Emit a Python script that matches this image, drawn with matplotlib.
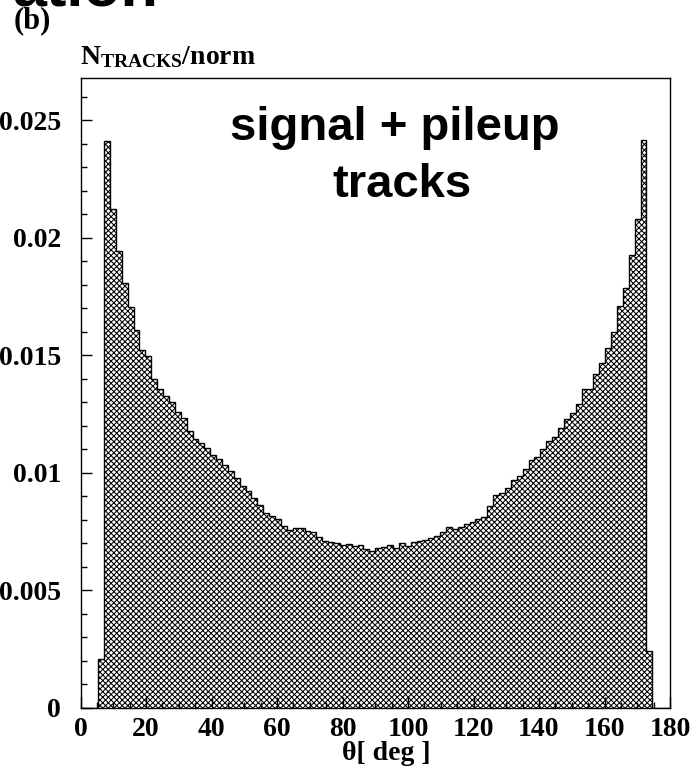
import numpy as np
import matplotlib
matplotlib.use("Agg")
import matplotlib.pyplot as plt
from matplotlib.ticker import MultipleLocator, FixedLocator, FixedFormatter

# Polar angle distribution of signal + pileup tracks, 100 bins over 0-180 deg
bin_lo, bin_hi, n_bins = 0.0, 180.0, 100
first_filled_bin = 3
track_fraction = [
    0.00209, 0.02410, 0.02123, 0.01943, 0.01808, 0.01707, 0.01608, 0.01523,
    0.01496, 0.01401, 0.01358, 0.01327, 0.01300, 0.01260, 0.01235, 0.01177,
    0.01145, 0.01128, 0.01104, 0.01074, 0.01060, 0.01035, 0.01007, 0.00979,
    0.00943, 0.00922, 0.00893, 0.00861, 0.00829, 0.00815, 0.00801, 0.00772,
    0.00758, 0.00765, 0.00765, 0.00751, 0.00747, 0.00727, 0.00708, 0.00704,
    0.00701, 0.00694, 0.00698, 0.00690, 0.00691, 0.00677, 0.00669, 0.00680,
    0.00684, 0.00694, 0.00680, 0.00701, 0.00687, 0.00704, 0.00708, 0.00715,
    0.00721, 0.00730, 0.00748, 0.00768, 0.00761, 0.00770, 0.00780, 0.00789,
    0.00804, 0.00812, 0.00858, 0.00907, 0.00915, 0.00936, 0.00971, 0.00988,
    0.01017, 0.01054, 0.01068, 0.01102, 0.01135, 0.01154, 0.01192, 0.01230,
    0.01256, 0.01293, 0.01358, 0.01358, 0.01422, 0.01469, 0.01529, 0.01597,
    0.01708, 0.01785, 0.01927, 0.02081, 0.02415, 0.00243,
]

x_ticks = [0, 20, 40, 60, 80, 100, 120, 140, 160, 180]
x_tick_labels = ["0", "20", "40", "60", "80", "100", "120", "140", "160", "180"]
y_ticks = [0, 0.005, 0.01, 0.015, 0.02, 0.025]
y_tick_labels = ["0", "0.005", "0.01", "0.015", "0.02", "0.025"]

edges = np.linspace(bin_lo, bin_hi, n_bins + 1)
counts = np.zeros(n_bins)
counts[first_filled_bin:first_filled_bin + len(track_fraction)] = track_fraction

plt.rcParams["hatch.linewidth"] = 0.75
plt.rcParams["mathtext.fontset"] = "custom"
plt.rcParams["mathtext.bf"] = "Liberation Serif:bold"
plt.rcParams["mathtext.rm"] = "Liberation Serif:bold"
serif_bold = dict(family="Liberation Serif", weight="bold")
sans_bold = dict(family="Liberation Sans", weight="bold")

W, H = 696, 774
fig = plt.figure(figsize=(W / 100, H / 100), dpi=100)
ax = fig.add_axes([80.5 / W, 1 - 707.7 / H, (670 - 80.5) / W, (707.7 - 78) / H])

# cross-hatched fill, then the outline on top
ax.stairs(counts, edges, fill=True, facecolor="white", edgecolor="black",
          hatch="xxxxxx", linewidth=0)
ax.stairs(counts, edges, fill=False, color="black", linewidth=1.0, baseline=0)

ax.set_xlim(bin_lo, bin_hi)
ax.set_ylim(0, 0.0268)

ax.xaxis.set_major_locator(FixedLocator(x_ticks))
ax.xaxis.set_major_formatter(FixedFormatter(x_tick_labels))
ax.xaxis.set_minor_locator(MultipleLocator(5))
ax.yaxis.set_major_locator(FixedLocator(y_ticks))
ax.yaxis.set_major_formatter(FixedFormatter(y_tick_labels))
ax.yaxis.set_minor_locator(MultipleLocator(0.001))

ax.tick_params(which="both", direction="in", top=False, right=False,
               color="black", width=1.0)
ax.tick_params(which="major", length=8)
ax.tick_params(which="minor", length=4.5)
ax.tick_params(axis="x", which="major", pad=7)
ax.tick_params(axis="y", which="major", pad=14)
for lab in ax.get_xticklabels() + ax.get_yticklabels():
    lab.set_fontfamily("Liberation Serif")
    lab.set_fontweight("bold")
    lab.set_fontsize(20)
for sp in ax.spines.values():
    sp.set_linewidth(1.0)
    sp.set_color("black")

def px(x, y):
    return x / W, 1 - y / H

# axis titles
fig.text(*px(386, 753), "θ[ deg ]", ha="center", va="center", fontsize=20, **serif_bold)
fig.text(*px(80, 64), r"$\mathbf{N_{TRACKS}/norm}$", ha="left", va="baseline", fontsize=20)

# panel label and heading above the frame
fig.text(*px(14, 28), "(b)", ha="left", va="baseline", fontsize=22, **serif_bold)
fig.text(*px(158, 5), "ation", ha="right", va="baseline", fontsize=44, **sans_bold)

# in-frame caption
fig.text(*px(395, 140), "signal + pileup", ha="center", va="baseline", fontsize=34, **sans_bold)
fig.text(*px(402, 197), "tracks", ha="center", va="baseline", fontsize=34, **sans_bold)

fig.savefig("out.png", dpi=100)
